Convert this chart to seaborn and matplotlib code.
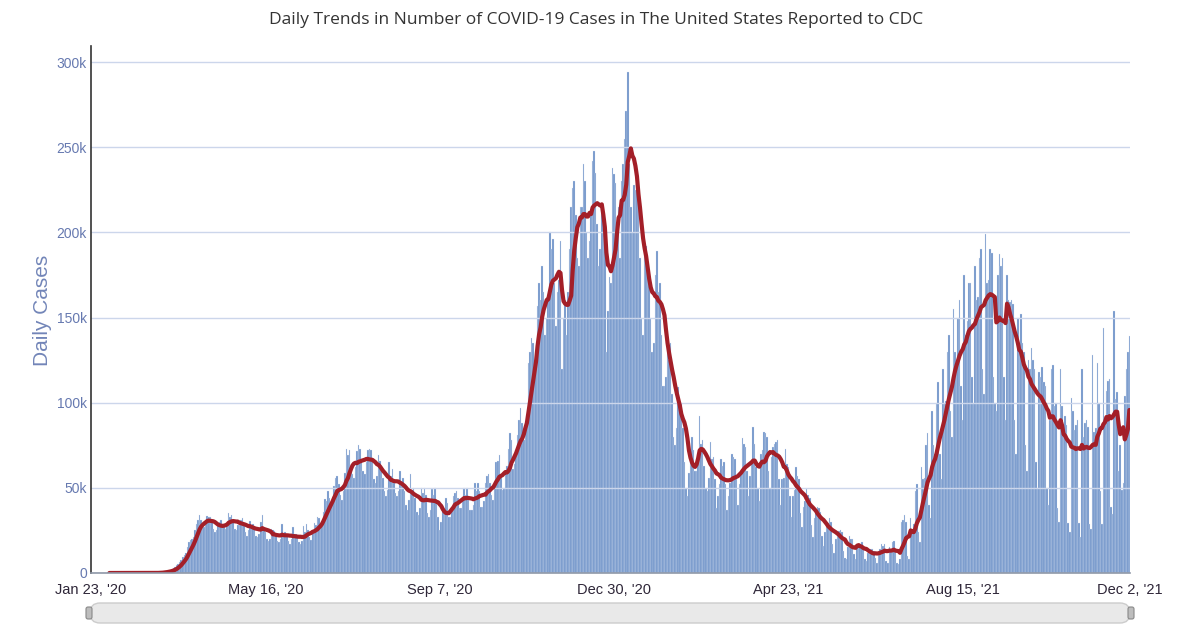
import numpy as np
import pandas as pd
import matplotlib
matplotlib.use('Agg')
import matplotlib.pyplot as plt
import seaborn as sns
from matplotlib.patches import FancyBboxPatch
from matplotlib.transforms import IdentityTransform

start_date = '2020-01-23'

# daily reported cases (thousands), one row per week Thu..Wed
daily_cases_k = [
    0, 0, 0, 0, 0, 0, 0,                    # Jan 23
    0, 0, 0, 0, 0, 0, 0,                    # Jan 30
    0, 0, 0, 0, 0, 0, 0,                    # Feb 6
    0, 0, 0, 0, 0, 0, 0,                    # Feb 13
    0, 0, 0, 0, 0, 0, 0,                    # Feb 20
    0, 0, 0, 0, 0, 0, 0.1,                  # Feb 27
    0.1, 0.1, 0.1, 0.2, 0.3, 0.5, 0.8,      # Mar 5
    0.9, 1.1, 1.3, 1.6, 2.0, 2.7, 3.5,      # Mar 12
    4.5, 5.5, 6.5, 7.5, 9.5, 10.5, 12,      # Mar 19
    15, 18, 19.5, 20, 21, 25, 28.5,         # Mar 26
    31, 34, 31, 27, 27, 30, 33.5,           # Apr 2
    33, 33, 30, 26, 24, 25, 28.5,           # Apr 9
    30, 31, 29, 27, 26, 28, 35.5,           # Apr 16
    33, 34, 30, 26, 25, 28, 30.5,           # Apr 23
    31, 32, 28, 24, 22, 25, 30.5,           # Apr 30
    28, 28.5, 26, 22, 21, 23, 30,           # May 7
    34, 25, 24, 20, 19, 20, 26,             # May 14
    25, 24.5, 22, 19, 18, 20, 29,           # May 21
    23, 24, 22, 18.5, 17, 20, 27,           # May 28
    23, 23, 21, 18, 17, 19, 27.5,           # Jun 4
    24, 29, 25, 21, 19.5, 23.5, 29.5,       # Jun 11
    28, 33, 32, 27, 28, 36, 43.5,           # Jun 18
    42, 48, 44, 40, 41, 51, 56,             # Jun 25
    57, 52, 46, 43, 48, 59, 73,             # Jul 2
    69, 72, 63, 58, 56, 62, 71.5,           # Jul 9
    75, 73, 66, 60, 58, 65, 72,             # Jul 16
    73, 72, 65, 55, 53, 57, 69.5,           # Jul 23
    66, 63, 56, 48, 45, 49, 65,             # Jul 30
    57, 61, 53, 47, 45, 48, 60,             # Aug 6
    54, 56, 48, 40, 37, 43, 58,             # Aug 13
    49, 50, 44, 36, 34, 38, 50,             # Aug 20
    47, 50, 46, 35, 33, 37, 49.5,           # Aug 27
    46, 50, 42, 33, 25, 30, 37,             # Sep 3
    36, 44, 41, 33, 33, 38, 45,             # Sep 10
    47, 48, 44, 38, 38, 43, 50,             # Sep 17
    46, 50, 43, 37, 37, 40, 53,             # Sep 24
    48, 53, 48, 39, 39, 42, 53,             # Oct 1
    57, 58, 53, 46, 43, 53, 65,             # Oct 8
    66, 69, 57, 49, 50, 59, 63,             # Oct 15
    73, 82, 78, 61, 64, 72, 81,             # Oct 22
    90, 97, 88, 78, 89, 93, 123,            # Oct 29
    130, 138, 135, 120, 130, 157, 170,      # Nov 5
    160, 180, 165, 140, 150, 160, 200,      # Nov 12
    190, 196, 170, 145, 165, 172, 195,      # Nov 19
    120, 150, 160, 140, 165, 190, 215,      # Nov 26
    226, 230, 210, 185, 180, 215, 215,      # Dec 3
    240, 230, 200, 185, 195, 210, 242,      # Dec 10
    248, 235, 205, 180, 190, 215, 200,      # Dec 17
    197, 130, 154, 174, 170, 238, 234,      # Dec 24
    229, 200, 215, 185, 230, 240, 255,      # Dec 31
    271, 294, 240, 215, 200, 228, 225,      # Jan 7 '21
    228, 220, 185, 150, 140, 187, 192,      # Jan 14
    180, 175, 150, 130, 135, 175, 189,      # Jan 21
    165, 170, 140, 110, 110, 115, 135,      # Jan 28
    125, 135, 105, 80, 75, 85, 109,         # Feb 4
    100, 100, 85, 65, 50, 45, 59,           # Feb 11
    70, 80, 72, 60, 60, 70, 92,             # Feb 18
    76, 78, 63, 50, 48, 56, 77,             # Feb 25
    67, 68, 55, 38, 45, 52, 67,             # Mar 4
    63, 65, 52, 37, 45, 53, 70,             # Mar 11
    68, 67, 55, 40, 52, 59, 79,             # Mar 18
    76, 74, 60, 45, 57, 64, 86,             # Mar 25
    76, 62, 50, 42, 70, 72, 83,             # Apr 1
    82, 80, 60, 50, 68, 74, 76,             # Apr 8
    77, 78, 55, 40, 55, 56, 73,             # Apr 15
    64, 62, 45, 33, 45, 49, 62.5,           # Apr 22
    57, 55, 35, 27, 39, 42, 49.5,           # Apr 29
    46, 44, 28, 21, 32, 35, 39,             # May 6
    38, 36, 22, 16, 24, 27, 29.5,           # May 13
    32, 30, 17, 12, 20, 22, 24.5,           # May 20
    25, 24, 13, 9, 8, 15, 21.5,             # May 27
    20, 20, 11, 8, 17, 17, 17,              # Jun 3
    18, 15, 8, 7, 12, 12, 14,               # Jun 10
    14, 13, 9, 6, 13, 14, 17,               # Jun 17
    16, 17, 7, 6, 15, 14, 18,               # Jun 24
    19, 13, 6, 5, 8, 30, 31,                # Jul 1
    34, 30, 10, 8, 32, 25, 29,              # Jul 8
    48, 52, 24, 18, 62, 55, 56,             # Jul 15
    75, 82, 40, 32, 95, 75, 70,             # Jul 22
    100, 112, 70, 55, 120, 100, 101,        # Jul 29
    130, 140, 95, 80, 155, 130, 124,        # Aug 5
    150, 160, 110, 90, 175, 140, 148,       # Aug 12
    170, 170, 115, 100, 180, 160, 162,      # Aug 19
    185, 190, 120, 105, 199, 170, 172,      # Aug 26
    190, 188, 115, 100, 95, 175, 187,       # Sep 2
    180, 185, 115, 90, 175, 160, 159,       # Sep 9
    160, 158, 90, 70, 150, 130, 152,        # Sep 16
    135, 130, 75, 60, 125, 120, 132,        # Sep 23
    125, 120, 65, 50, 118, 115, 121,        # Sep 30
    112, 110, 50, 40, 90, 120, 122,         # Oct 7
    98, 100, 38, 30, 120, 98, 86,           # Oct 14
    92, 87, 29.6, 23.8, 103, 95, 84,        # Oct 21
    87, 90, 29.6, 20.9, 120, 80, 88,        # Oct 28
    90, 86, 28.6, 26, 128, 83, 85,          # Nov 4
    123, 100, 48, 28.6, 143.7, 91, 106.6,   # Nov 11
    113, 114, 39, 34.5, 154, 102, 106,      # Nov 18
    60, 75, 49, 53, 104, 120, 130,          # Nov 25
    139,                                    # Dec 2
]

tick_dates = ['2020-01-23', '2020-05-16', '2020-09-07', '2020-12-30',
              '2021-04-23', '2021-08-15', '2021-12-02']
tick_labels = ["Jan 23, '20", "May 16, '20", "Sep 7, '20", "Dec 30, '20",
               "Apr 23, '21", "Aug 15, '21", "Dec 2, '21"]
y_ticks_k = [0, 50, 100, 150, 200, 250, 300]

dates = pd.date_range(start_date, periods=len(daily_cases_k), freq='D')
df = pd.DataFrame({'date': dates, 'cases': daily_cases_k})
df['day'] = (df['date'] - dates[0]).dt.days
df['avg7'] = df['cases'].rolling(7).mean()

sns.set_style('white')
plt.rcParams['font.family'] = ['Liberation Sans', 'DejaVu Sans']

W, H = 1198, 630
fig = plt.figure(figsize=(W / 100, H / 100), dpi=100)
ax = fig.add_axes([91 / W, 57 / H, 1039 / W, 527 / H])

sns.barplot(data=df, x='day', y='cases', native_scale=True, color='#6f93c9',
            saturation=1, width=1.0, edgecolor='#dde6f3', linewidth=0.2, ax=ax)
line_df = df[df['day'] >= 12]
sns.lineplot(data=line_df, x='day', y='avg7', color='#a31f28', linewidth=3.0, ax=ax)

ax.set_xlim(0, 679.4)
ax.set_ylim(0, 309.4)
ax.set_yticks(y_ticks_k)
ax.set_yticklabels(['0'] + [f'{v}k' for v in y_ticks_k[1:]])
tick_pos = [(pd.Timestamp(d) - dates[0]).days for d in tick_dates]
ax.set_xticks(tick_pos)
ax.set_xticklabels(tick_labels)
ax.set_xlabel('')
ax.set_ylabel('')

ax.set_axisbelow('line')
ax.yaxis.grid(True, color='#ccd6eb', linewidth=1)
ax.xaxis.grid(False)

for s in ['top', 'right']:
    ax.spines[s].set_visible(False)
ax.spines['left'].set_color('#333333')
ax.spines['left'].set_linewidth(1.2)
ax.spines['bottom'].set_color('#8f98a8')
ax.spines['bottom'].set_linewidth(1.2)

ax.tick_params(axis='y', length=0, pad=3, labelsize=10, labelcolor='#6679b0')
ax.tick_params(axis='x', length=5, width=1, color='#8f98a8', pad=2,
               labelsize=10.5, labelcolor='#2e2638')

fig.text(596 / W, 1 - 20 / H,
         'Daily Trends in Number of COVID-19 Cases in The United States Reported to CDC',
         ha='center', va='center', fontsize=12.5, color='#333333',
         family=['Open Sans', 'DejaVu Sans'])
fig.text(42 / W, 1 - 310 / H, 'Daily Cases', rotation=90, ha='center', va='center',
         fontsize=15, color='#7285b8')

# range navigator below the plot
slider = FancyBboxPatch((90, 7), 1040, 20, boxstyle='round,pad=0,rounding_size=10',
                        transform=IdentityTransform(), facecolor='#e9e9e9',
                        edgecolor='#cccccc', linewidth=1)
fig.add_artist(slider)
for hx in (86, 1128):
    handle = FancyBboxPatch((hx, 11), 6, 12, boxstyle='round,pad=0,rounding_size=2',
                            transform=IdentityTransform(), facecolor='#bdbdbd',
                            edgecolor='#888888', linewidth=0.8)
    fig.add_artist(handle)

fig.savefig('out.png', dpi=100)
